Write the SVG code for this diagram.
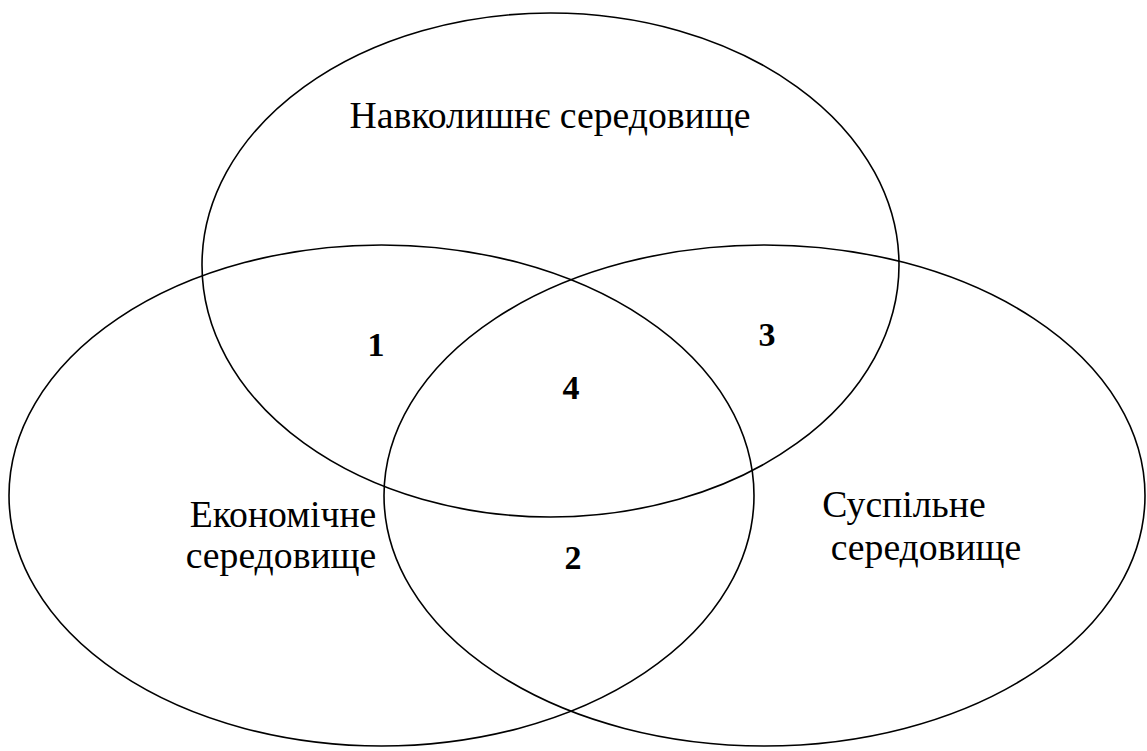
<svg xmlns="http://www.w3.org/2000/svg" width="1147" height="751" viewBox="0 0 1147 751">
<style>
.e{fill:none;stroke:#000;stroke-width:1.6}
</style>
<rect width="1147" height="751" fill="#fff"/>
<g id="connectors"></g>
<g id="env">
<ellipse class="e" cx="550.5" cy="265" rx="348.5" ry="252"/>
<text x="550" y="128" font-family="Liberation Serif" font-size="37.7" text-anchor="middle">Навколишнє середовище</text>
</g>
<g id="econ">
<ellipse class="e" cx="381.5" cy="495.5" rx="372.5" ry="250.5"/>
<text x="283" y="527" font-family="Liberation Serif" font-size="37.7" text-anchor="middle">Економічне</text>
<text x="281" y="568" font-family="Liberation Serif" font-size="37.7" text-anchor="middle">середовище</text>
</g>
<g id="social">
<ellipse class="e" cx="764.5" cy="495.5" rx="380.5" ry="250.5"/>
<text x="904" y="517" font-family="Liberation Serif" font-size="37.7" text-anchor="middle">Суспільне</text>
<text x="926" y="560" font-family="Liberation Serif" font-size="37.7" text-anchor="middle">середовище</text>
</g>
<g id="labels">
<text x="376" y="356" font-family="Liberation Serif" font-size="34" font-weight="bold" text-anchor="middle">1</text>
<text x="573" y="569" font-family="Liberation Serif" font-size="34" font-weight="bold" text-anchor="middle">2</text>
<text x="767" y="346" font-family="Liberation Serif" font-size="34" font-weight="bold" text-anchor="middle">3</text>
<text x="571" y="399" font-family="Liberation Serif" font-size="34" font-weight="bold" text-anchor="middle">4</text>
</g>
</svg>
